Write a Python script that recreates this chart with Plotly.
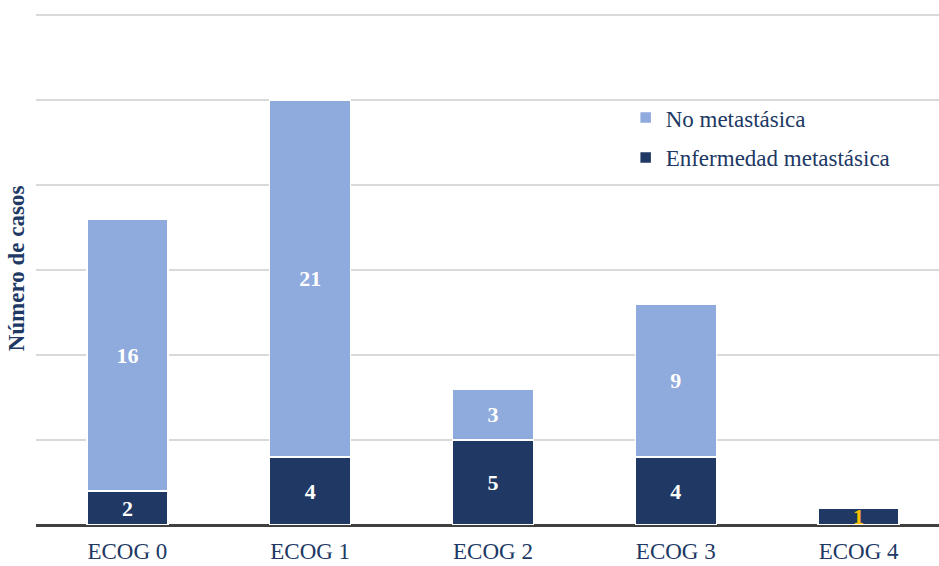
import plotly.graph_objects as go

categories = ["ECOG 0", "ECOG 1", "ECOG 2", "ECOG 3", "ECOG 4"]
metastasica = [2, 4, 5, 4, 1]
no_metastasica = [16, 21, 3, 9, 0]
meta_label_colors = ["white", "white", "white", "white", "#FFC000"]

DARK = "#203864"
LIGHT = "#8FAADC"
FONT = '"Liberation Serif", "Times New Roman", Times, serif'

fig = go.Figure()
fig.add_trace(go.Bar(
    x=categories, y=metastasica, name="Enfermedad metastásica",
    marker=dict(color=DARK, line=dict(color="white", width=1.5)),
    text=[str(v) for v in metastasica], textposition="inside", textangle=0,
    insidetextanchor="middle", constraintext="none",
    textfont=dict(family=FONT, size=22, color=meta_label_colors, weight="bold"),
    legendgroup="a", legendrank=2, hoverinfo="skip",
))
fig.add_trace(go.Bar(
    x=categories, y=no_metastasica, name="No metastásica",
    marker=dict(color=LIGHT, line=dict(color="white", width=1.5)),
    text=[str(v) if v else "" for v in no_metastasica], textposition="inside", textangle=0,
    insidetextanchor="middle", constraintext="none",
    textfont=dict(family=FONT, size=22, color="white", weight="bold"),
    legendgroup="b", legendrank=1, hoverinfo="skip",
))

fig.update_layout(
    width=939, height=566,
    margin=dict(l=36, r=0, t=12, b=41),
    barmode="stack", bargap=0.557,
    plot_bgcolor="white", paper_bgcolor="white",
    font=dict(family=FONT, color=DARK),
    showlegend=True,
    legend=dict(x=0.653, y=0.836, xanchor="left", yanchor="top",
                traceorder="grouped", tracegroupgap=7,
                font=dict(family=FONT, size=23, color=DARK),
                itemwidth=30, bgcolor="rgba(0,0,0,0)"),
    xaxis=dict(range=[-0.5, 4.44], showgrid=False, zeroline=False,
               ticks="outside", ticklen=5, tickcolor="rgba(0,0,0,0)",
               tickfont=dict(family=FONT, size=23, color=DARK), showline=False),
    yaxis=dict(range=[0, 30.18], dtick=5, showticklabels=False, showgrid=True,
               gridcolor="#D9D9D9", gridwidth=1.5, zeroline=True,
               zerolinecolor="#404040", zerolinewidth=3,
               title=dict(text="<b>Número de casos</b>", standoff=3,
                          font=dict(family=FONT, size=23, color=DARK))),
)

fig.write_html("out.html")
